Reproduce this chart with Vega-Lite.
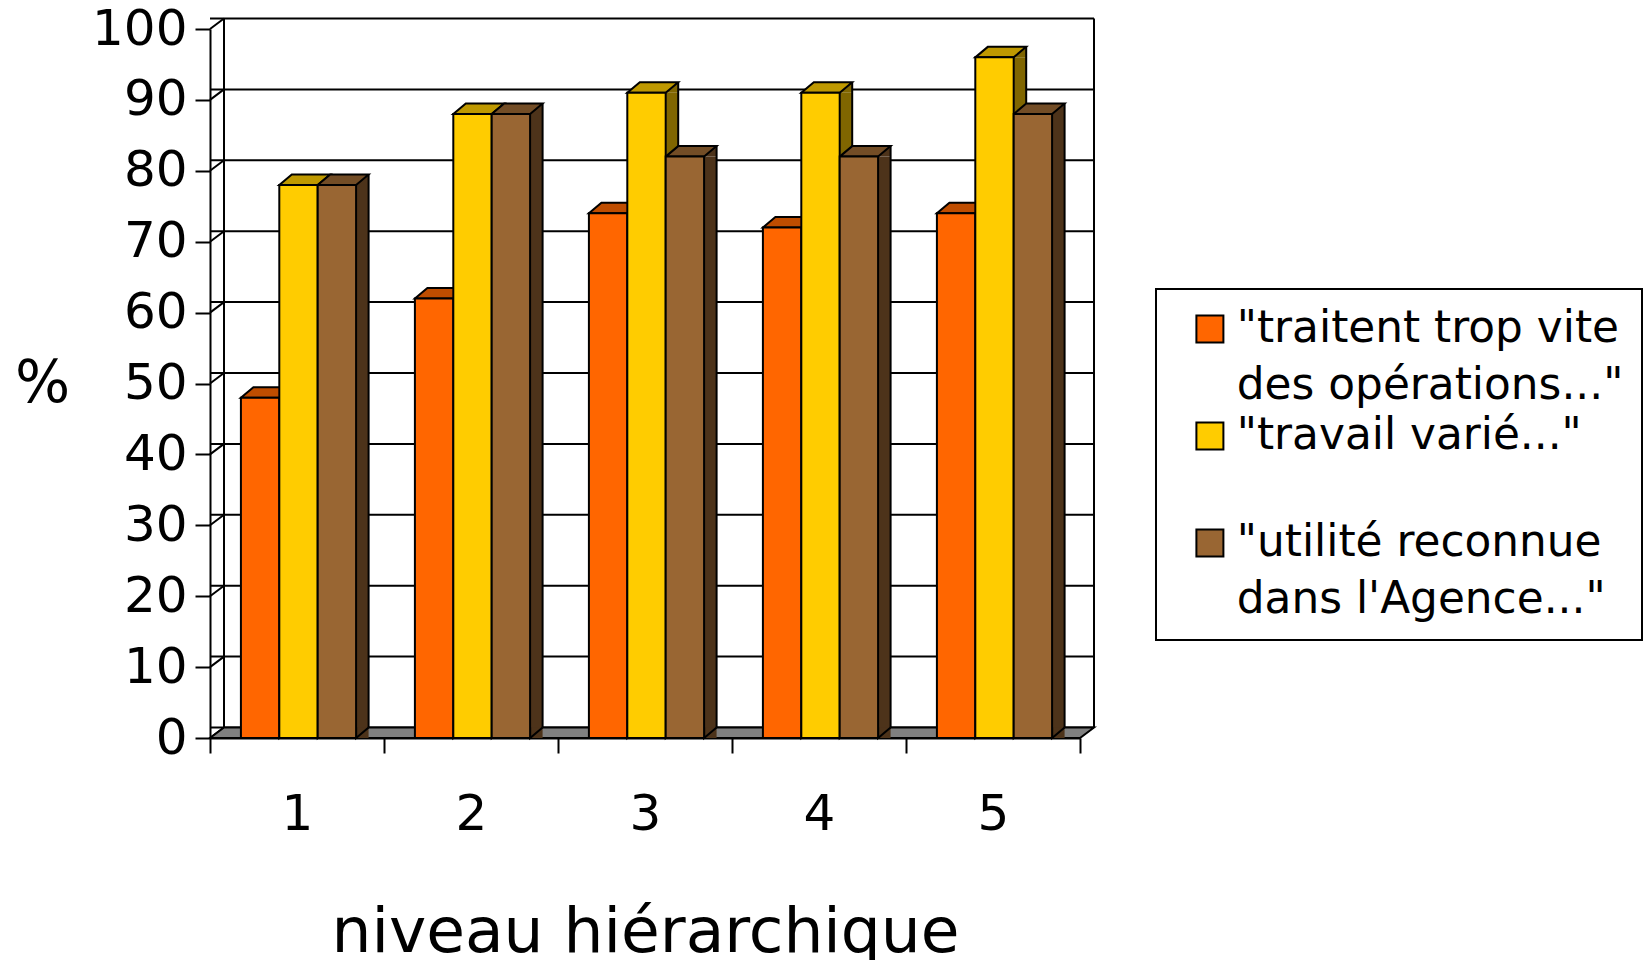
{
"$schema":"https://vega.github.io/schema/vega-lite/v6.json",
"width":870,"height":709,
"autosize":{"type":"none"},
"padding":{"left":210,"top":29,"right":568,"bottom":222},
"background":"white",
"view":{"stroke":null},
"config":{"font":"DejaVu Sans",
 "axisY":{"titleAngle":0,"titleFontSize":58,"titleFontWeight":"normal","titleX":-168,"titleY":355,"titleAlign":"center","titleBaseline":"middle","titleColor":"#000","tickCount":11,"tickSize":15,"tickWidth":2,"tickColor":"#000","domainColor":"#000","domainWidth":2,"labelFontSize":50,"labelColor":"#000","labelPadding":8,"grid":false},
 "axisX":{"titleFontSize":63,"titleFontWeight":"normal","titleColor":"#000","titleX":435,"titleY":213,"titleBaseline":"alphabetic","labelAngle":0,"labelFontSize":50,"labelColor":"#000","labelPadding":36,"labelBaseline":"top","tickBand":"extent","tickSize":15,"tickWidth":2,"tickColor":"#000","domainColor":"#000","domainWidth":2,"grid":false}
},
"datasets":{
"bars":[
{"niveau":"1","serie":"\"traitent trop vite\ndes opérations...\"","pct":48},
{"niveau":"1","serie":"\"travail varié...\"\n ","pct":78},
{"niveau":"1","serie":"\"utilité reconnue\ndans l'Agence...\"","pct":78},
{"niveau":"2","serie":"\"traitent trop vite\ndes opérations...\"","pct":62},
{"niveau":"2","serie":"\"travail varié...\"\n ","pct":88},
{"niveau":"2","serie":"\"utilité reconnue\ndans l'Agence...\"","pct":88},
{"niveau":"3","serie":"\"traitent trop vite\ndes opérations...\"","pct":74},
{"niveau":"3","serie":"\"travail varié...\"\n ","pct":91},
{"niveau":"3","serie":"\"utilité reconnue\ndans l'Agence...\"","pct":82},
{"niveau":"4","serie":"\"traitent trop vite\ndes opérations...\"","pct":72},
{"niveau":"4","serie":"\"travail varié...\"\n ","pct":91},
{"niveau":"4","serie":"\"utilité reconnue\ndans l'Agence...\"","pct":82},
{"niveau":"5","serie":"\"traitent trop vite\ndes opérations...\"","pct":74},
{"niveau":"5","serie":"\"travail varié...\"\n ","pct":96},
{"niveau":"5","serie":"\"utilité reconnue\ndans l'Agence...\"","pct":88}
],
"grid":[{"t":0},{"t":10},{"t":20},{"t":30},{"t":40},{"t":50},{"t":60},{"t":70},{"t":80},{"t":90},{"t":100}]
},
"resolve":{"scale":{"color":"independent","xOffset":"independent"}},
"layer":[
{"data":{"name":"grid"},"mark":{"type":"rule","stroke":"#000","strokeWidth":2,"xOffset":14,"yOffset":-10.5},
 "encoding":{"y":{"field":"t","type":"quantitative","title":"%","scale":{"domain":[0,100]}}}},
{"data":{"values":[{"a":0,"b":100}]},"mark":{"type":"rule","stroke":"#000","strokeWidth":2,"xOffset":14,"yOffset":-10.5,"y2Offset":-10.5},
 "encoding":{"x":{"value":0},"y":{"field":"a","type":"quantitative","title":"%"},"y2":{"field":"b"}}},
{"data":{"values":[{"a":0,"b":100}]},"mark":{"type":"rule","stroke":"#000","strokeWidth":2,"xOffset":14,"yOffset":-10.5,"y2Offset":-10.5},
 "encoding":{"x":{"value":870},"y":{"field":"a","type":"quantitative","title":"%"},"y2":{"field":"b"}}},
{"data":{"name":"grid"},"mark":{"type":"point","shape":"M0,0L14,-10.5","size":4,"filled":false,"stroke":"#000","strokeWidth":2,"opacity":1},
 "encoding":{"x":{"value":0},"y":{"field":"t","type":"quantitative","title":"%"}}},
{"data":{"values":[{"t":0}]},"mark":{"type":"point","shape":"M0,0L870,0L884,-10.5L14,-10.5Z","size":4,"filled":true,"fill":"#808080","stroke":"#000","strokeWidth":2,"opacity":1},
 "encoding":{"x":{"value":0},"y":{"field":"t","type":"quantitative","title":"%"}}},
{"data":{"name":"bars"},"mark":{"type":"bar","y2Offset":-10.5},
 "encoding":{"x":{"field":"niveau","type":"nominal","title":"niveau hiérarchique","scale":{"type":"band","paddingInner":0,"paddingOuter":0}},
  "xOffset":{"field":"serie","type":"nominal","sort":null,"scale":{"paddingInner":0,"paddingOuter":0.766,"range":[14,188]}},
  "y":{"field":"pct","type":"quantitative","title":"%"},
  "color":{"field":"serie","type":"nominal","sort":null,"legend":null,"scale":{"range":["#803300","#806600","#4D331A"]}}}},
{"data":{"name":"bars"},"mark":{"type":"point","shape":"M20.7,0L33.2,-10.5L33.2,0Z","size":4,"filled":true,"strokeWidth":0,"opacity":1},
 "encoding":{"x":{"field":"niveau","type":"nominal","title":"niveau hiérarchique"},"xOffset":{"field":"serie","type":"nominal","sort":null,"scale":{"type":"point","padding":0,"range":[48.6,125.4]}},
  "y":{"field":"pct","type":"quantitative","title":"%"},
  "color":{"field":"serie","type":"nominal","sort":null,"legend":null,"scale":{"range":["#803300","#806600","#4D331A"]}}}},
{"data":{"name":"bars"},"mark":{"type":"point","shape":"M20.7,-10.5L20.7,0L33.2,-10.5","size":4,"filled":true,"stroke":"#000","strokeWidth":2,"opacity":1},
 "encoding":{"x":{"field":"niveau","type":"nominal","title":"niveau hiérarchique"},"xOffset":{"field":"serie","type":"nominal","sort":null,"scale":{"type":"point","padding":0,"range":[48.6,125.4]}},
  "y":{"datum":0,"type":"quantitative","title":"%"},
  "color":{"field":"serie","type":"nominal","sort":null,"legend":null,"scale":{"range":["#803300","#806600","#4D331A"]}}}},
{"data":{"name":"bars"},"mark":{"type":"rule","stroke":"#000","strokeWidth":2,"yOffset":-10.5,"y2Offset":-10.5},
 "encoding":{"x":{"field":"niveau","type":"nominal","title":"niveau hiérarchique"},"xOffset":{"field":"serie","type":"nominal","sort":null,"scale":{"type":"point","padding":0,"range":[81.8,158.6]}},
  "y":{"field":"pct","type":"quantitative","title":"%"},"y2":{"datum":0}}},
{"data":{"name":"bars"},"mark":{"type":"point","shape":"M-17.7,0L20.7,0L33.2,-10.5L-5.2,-10.5Z","size":4,"filled":true,"stroke":"#000","strokeWidth":2,"opacity":1},
 "encoding":{"x":{"field":"niveau","type":"nominal","title":"niveau hiérarchique"},"xOffset":{"field":"serie","type":"nominal","sort":null,"scale":{"type":"point","padding":0,"range":[48.6,125.4]}},
  "y":{"field":"pct","type":"quantitative","title":"%"},
  "color":{"field":"serie","type":"nominal","sort":null,"legend":null,"scale":{"range":["#BF4D00","#BF9900","#734D26"]}}}},
{"data":{"name":"bars"},"mark":{"type":"bar","stroke":"#000","strokeWidth":2,"opacity":1},
 "encoding":{"x":{"field":"niveau","type":"nominal","title":"niveau hiérarchique"},"xOffset":{"field":"serie","type":"nominal","sort":null,"scale":{"paddingInner":0,"paddingOuter":0.766,"range":[1.5,175.5]}},
  "y":{"field":"pct","type":"quantitative","title":"%"},
  "color":{"field":"serie","type":"nominal","sort":null,"scale":{"range":["#FF6600","#FFCC00","#996633"]},
   "legend":{"orient":"none","legendX":946,"legendY":260,"title":null,"symbolType":"square","symbolSize":729,"symbolStrokeColor":"#000","symbolStrokeWidth":2,"symbolOpacity":1,"symbolOffset":14,"labelFontSize":43.8,"labelColor":"#000","labelLimit":0,"labelExpr":"split(datum.label,'\\n')","padding":18,"strokeColor":"#000","fillColor":"white","labelOffset":5,"rowPadding":5,
    "encode":{"labels":{"update":{"lineHeight":{"value":57}}},"legend":{"update":{"strokeWidth":{"value":2},"height":{"value":296},"width":{"value":480}}}}}}}}
]
}
